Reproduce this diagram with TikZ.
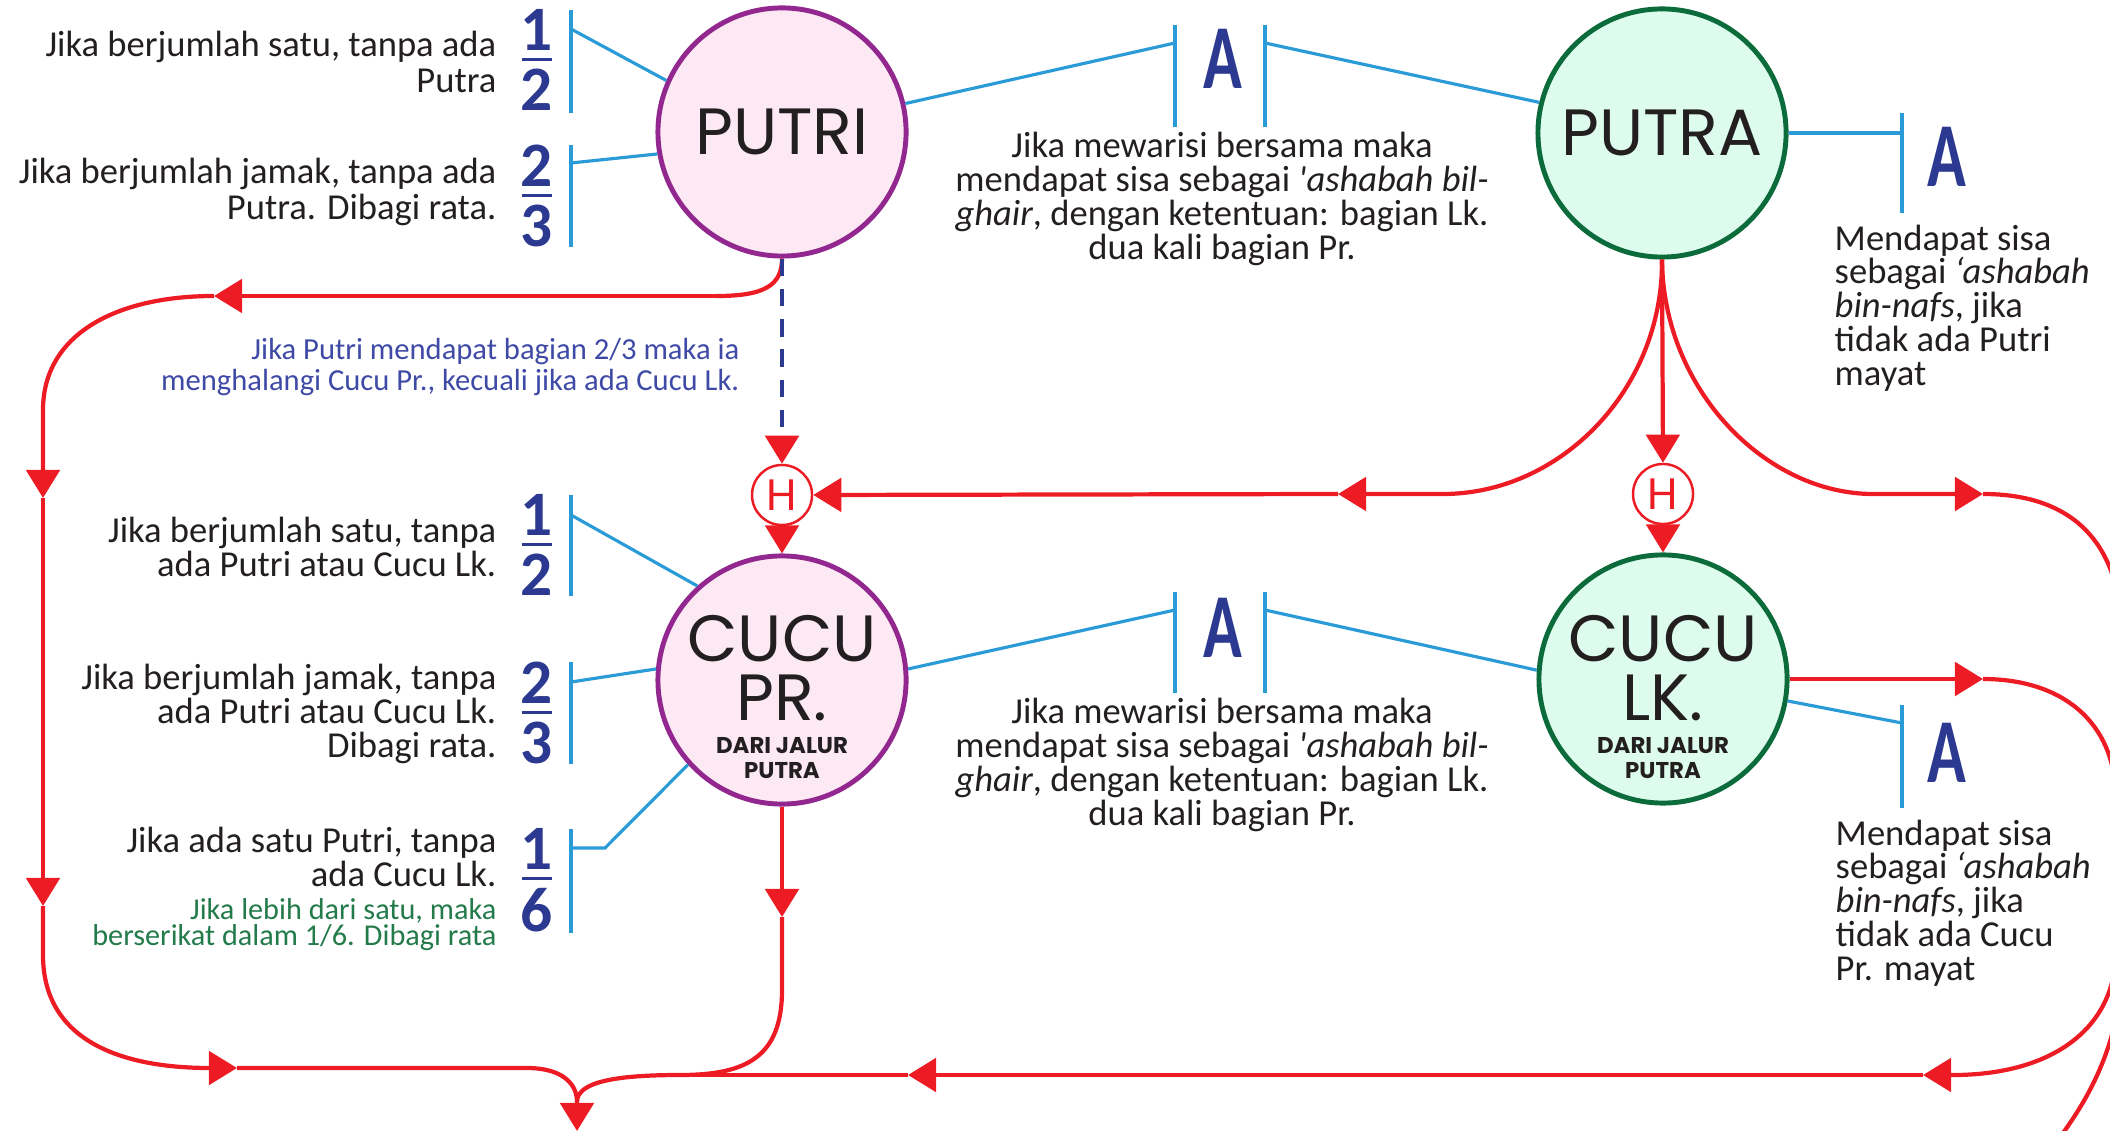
\documentclass[tikz,border=0pt]{standalone}
\usepackage{fontspec}
\setmainfont{Carlito}
\newfontfamily\bulat{Poppins}
\usepackage{graphicx}
\usepackage{xcolor}
\usepackage{tikz}
\usetikzlibrary{positioning,arrows.meta}

\definecolor{merah}{HTML}{ED1C24}
\definecolor{biru}{HTML}{2A9BD7}
\definecolor{navy}{HTML}{2B3990}
\definecolor{ungu}{HTML}{92278F}
\definecolor{pinkmuda}{HTML}{FCE9F3}
\definecolor{hijau}{HTML}{0B6B3A}
\definecolor{hijaumuda}{HTML}{DDFCEE}
\definecolor{birunote}{HTML}{3F4AA6}
\definecolor{hijaunote}{HTML}{237A4A}
\definecolor{teks}{HTML}{231F20}

\newcommand{\pecahan}[2]{\vbox{\offinterlineskip\halign{\hfil##\hfil\cr #1\cr\noalign{\kern2.2pt}\rule{8.5pt}{0.9pt}\cr\noalign{\kern2.2pt}#2\cr}}}
\newcommand{\hurufA}{\scalebox{0.7}[1]{A}}

\begin{document}
\begin{tikzpicture}[x=0.01cm, y=-0.01cm,
  lingkaran/.style={circle, minimum size=2.48cm, inner sep=0pt, line width=1.4pt, text=teks},
  pr/.style={lingkaran, draw=ungu, fill=pinkmuda},
  lk/.style={lingkaran, draw=hijau, fill=hijaumuda},
  judul/.style={text=teks, font=\bulat\fontsize{18.6}{16.6}\selectfont},
  hnode/.style={circle, draw=merah, line width=0.7pt, fill=white, minimum size=0.6cm, inner sep=0pt, text=merah, font=\bulat\fontsize{12.5}{12.5}\selectfont},
  ket/.style={inner sep=0pt, text=teks, font=\fontsize{10.4}{9.6}\selectfont},
  ketkiri/.style={ket, align=right, anchor=east},
  ketkanan/.style={ket, align=left, anchor=west},
  ketbawah/.style={ket, align=center},
  frac/.style={inner sep=0pt, text=navy, font=\fontsize{18}{18}\selectfont\bfseries},
  hurufa/.style={inner sep=0pt, text=navy, font=\fontsize{26}{26}\selectfont\bfseries},
  konektor/.style={biru, line width=0.9pt},
  garis/.style={merah, line width=1.2pt},
  panah/.style={garis, -{Triangle[length=8pt,width=9.5pt]}}]
\useasboundingbox (0,0) rectangle (2110,1131);
\clip (0,0) rectangle (2110,1131);

% Circles
\node[pr, judul] (putri) at (782,132) {PUTRI};
\node[lk, judul] (putra) at (1662,133) {PUTRA};
\node[pr] (cpr) at (782,680) {};
\node[lk] (clk) at (1663,679) {};
\node[judul, align=center, inner sep=0pt] (cprteks) at (782,697) {CUCU\\PR.\\[-7pt]{\bfseries\fontsize{6.5}{7}\selectfont DARI JALUR}\\[-9.6pt]{\bfseries\fontsize{6.5}{7}\selectfont PUTRA}};
\node[judul, align=center, inner sep=0pt] (clkteks) at (1663,697) {CUCU\\LK.\\[-7pt]{\bfseries\fontsize{6.5}{7}\selectfont DARI JALUR}\\[-9.6pt]{\bfseries\fontsize{6.5}{7}\selectfont PUTRA}};

% Hijab marks
\node[hnode] (H1) at (782,495) {H};
\node[hnode] (H2) at (1663,494) {H};

% Shares
\node[frac] (F1) at (537,60) {\pecahan{1}{2}};
\node[frac] (F2) at (537,196) {\pecahan{2}{3}};
\node[frac] (F3) at (537,545) {\pecahan{1}{2}};
\node[frac] (F4) at (537,713) {\pecahan{2}{3}};
\node[frac] (F5) at (537,880) {\pecahan{1}{6}};
\node[hurufa] (A1) at (1223,59) {\hurufA};
\node[hurufa] (A2) at (1947,157) {\hurufA};
\node[hurufa] (A3) at (1223,628) {\hurufA};
\node[hurufa] (A4) at (1947,753) {\hurufA};

% Left notes
\node[ketkiri, font=\fontsize{10.4}{10.4}\selectfont] (t1) at (497,62) {Jika berjumlah satu, tanpa ada\\Putra};
\node[ketkiri, font=\fontsize{10.4}{10.4}\selectfont] (t2) at (497,192) {Jika berjumlah jamak, tanpa ada\\Putra. Dibagi rata.};
\node[ketkiri] (t3) at (497,547) {Jika berjumlah satu, tanpa\\ada Putri atau Cucu Lk.};
\node[ketkiri] (t4) at (497,714) {Jika berjumlah jamak, tanpa\\ada Putri atau Cucu Lk.\\Dibagi rata.};
\node[ketkiri] (t5) at (497,857) {Jika ada satu Putri, tanpa\\ada Cucu Lk.};
\node[ketkiri, text=hijaunote, font=\fontsize{8.6}{7.4}\selectfont] (t5g) at (497,925) {Jika lebih dari satu, maka\\berserikat dalam 1/6. Dibagi rata};
\node[ketkiri, text=birunote, font=\fontsize{8.7}{8.6}\selectfont] (catatan) at (740,367) {Jika Putri mendapat bagian 2/3 maka ia\\menghalangi Cucu Pr., kecuali jika ada Cucu Lk.};

% Middle and right notes
\node[ketbawah] (m1) at (1222,199) {Jika mewarisi bersama maka\\mendapat sisa sebagai \textit{\textquotesingle ashabah bil-}\\\textit{ghair}, dengan ketentuan: bagian Lk.\\dua kali bagian Pr.};
\node[ketbawah] (m3) at (1222,765) {Jika mewarisi bersama maka\\mendapat sisa sebagai \textit{\textquotesingle ashabah bil-}\\\textit{ghair}, dengan ketentuan: bagian Lk.\\dua kali bagian Pr.};
\node[ketkanan] (r2) at (1834,308) {Mendapat sisa\\sebagai \textit{‘ashabah}\\\textit{bin-nafs}, jika\\tidak ada Putri\\mayat};
\node[ketkanan] (r4) at (1835,903) {Mendapat sisa\\sebagai \textit{‘ashabah}\\\textit{bin-nafs}, jika\\tidak ada Cucu\\Pr. mayat};

% Bars
\foreach \x/\ya/\yb in {571/10/113, 571/145/247, 571/495/596, 571/662/764, 571/829/933,
  1175/25/127, 1265/25/127, 1902/113/213, 1175/592/693, 1265/592/693, 1902/705/808}
  \draw[konektor] (\x,\ya) -- (\x,\yb);
\coordinate (b1) at (571,29);
\coordinate (b2) at (571,163);
\coordinate (b3) at (571,515);
\coordinate (b4) at (571,682);
\coordinate (b5) at (571,848);
\coordinate (b5k) at (605,848);
\coordinate (a1l) at (1175,43);
\coordinate (a1r) at (1265,43);
\coordinate (a2) at (1902,133);
\coordinate (a3l) at (1175,610);
\coordinate (a3r) at (1265,610);
\coordinate (a4) at (1902,723);

% Blue connectors
\draw[konektor] (putri.156) -- (b1);
\draw[konektor] (putri.190) -- (b2);
\draw[konektor] (cpr.132) -- (b3);
\draw[konektor] (cpr.175) -- (b4);
\draw[konektor] (cpr.222) -- (b5k) -- (b5);
\draw[konektor] (putri.13) -- (a1l);
\draw[konektor] (putra.166) -- (a1r);
\draw[konektor] (putra.east) -- (a2);
\draw[konektor] (cpr.5) -- (a3l);
\draw[konektor] (clk.176) -- (a3r);
\draw[konektor] (clk.-10) -- (a4);

% Red flow coordinates
\coordinate (k1) at (717,296);
\coordinate (k2) at (214,296);
\coordinate (k3) at (43,498);
\coordinate (k4) at (43,906);
\coordinate (k5) at (237,1068);
\coordinate (k6) at (782,917);
\coordinate (k7) at (680,1075);
\coordinate (k8) at (1923,1075);
\coordinate (k9) at (908,1075);
\coordinate (k10) at (1983,679);
\coordinate (k12) at (1338,494);
\coordinate (k13) at (1983,494);
\coordinate (gabung) at (577,1102);
\coordinate (akhir) at (577,1131);

% Putri: left loop down
\draw[garis] (putri.south) .. controls (782,285) and (765,296) .. (k1);
\draw[panah] (k1) -- (k2);
\draw[panah] (k2) .. controls (115,296) and (43,335) .. (43,410) -- (k3);
\draw[panah] (k3) -- (k4);
\draw[panah] (k4) -- (43,955) .. controls (43,1040) and (120,1068) .. (k5);
\draw[garis] (k5) -- (527,1068) .. controls (560,1068) and (577,1082) .. (gabung);

% Cucu Pr. down
\draw[panah] (cpr.south) -- (k6);
\draw[garis] (k6) -- (782,990) .. controls (782,1058) and (745,1075) .. (k7) .. controls (615,1075) and (577,1082) .. (gabung);
\draw[panah] (gabung) -- (akhir);

% Hijab arrows
\draw[navy, line width=1.3pt, dash pattern=on 5pt off 3.6pt, -{Triangle[length=8pt,width=9.5pt,color=merah]}] (putri.south) -- (H1.north);
\draw[panah] (H1.south) -- (cpr.north);
\draw[panah] (putra.south) -- (H2.north);
\draw[panah] (H2.south) -- (clk.north);
\draw[panah] (putra.south) .. controls (1663,390) and (1560,494) .. (1443,494) -- (k12);
\draw[panah] (k12) -- (H1.east);

% Right loops
\draw[panah] (putra.south) .. controls (1663,390) and (1766,494) .. (1873,494) -- (k13);
\draw[garis] (k13) .. controls (2070,494) and (2122,540) .. (2122,640) -- (2122,960) .. controls (2122,1040) and (2090,1100) .. (2050,1150);
\draw[panah] (clk.east) -- (k10);
\draw[panah] (k10) .. controls (2060,679) and (2116,720) .. (2116,800) -- (2116,950) .. controls (2116,1030) and (2050,1075) .. (1953,1075) -- (k8);
\draw[panah] (k8) -- (k9);
\draw[garis] (k9) -- (k7);
\end{tikzpicture}
\end{document}
